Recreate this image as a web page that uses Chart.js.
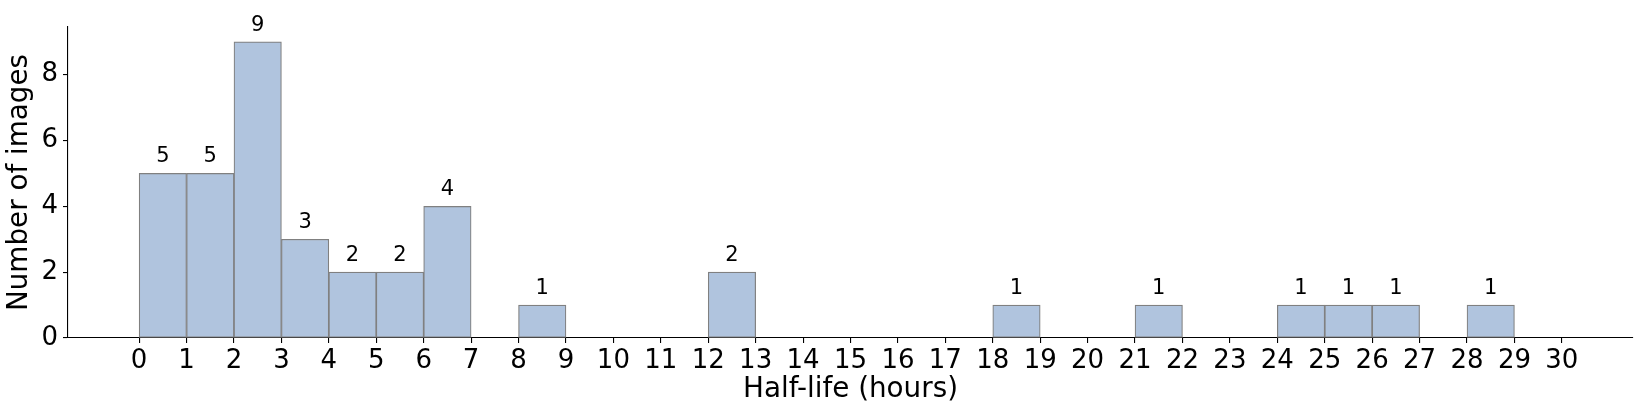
<!DOCTYPE html>
<html lang="en">
<head>
    <meta charset="UTF-8">
    <title>Half-life histogram</title>
    <style>
        html, body {
            margin: 0;
            padding: 0;
            background: #fff;
        }
        #chart-box {
            width: 1646px;
            height: 416px;
        }
    </style>
</head>
<body>
    <div id="chart-box">
        <canvas id="hist" width="1646" height="416"></canvas>
    </div>

    <script src="https://cdn.jsdelivr.net/npm/chart.js"></script>
    <script>
        // bin starts (hours), each bin is 1 hour wide
        const binStarts = [0, 1, 2, 3, 4, 5, 6, 7, 8, 9, 10, 11, 12, 13, 14, 15, 16, 17, 18, 19, 20, 21, 22, 23, 24, 25, 26, 27, 28, 29];
        const counts    = [5, 5, 9, 3, 2, 2, 4, 0, 1, 0, 0, 0, 2, 0, 0, 0, 0, 0, 1, 0, 0, 1, 0, 0, 1, 1, 1, 0, 1, 0];
        const xTicks = [0, 1, 2, 3, 4, 5, 6, 7, 8, 9, 10, 11, 12, 13, 14, 15, 16, 17, 18, 19, 20, 21, 22, 23, 24, 25, 26, 27, 28, 29, 30];
        const yTicks = [0, 2, 4, 6, 8];

        const font = 'DejaVu Sans';

        // count labels above each non-empty bar
        const barLabels = {
            id: 'barLabels',
            afterDatasetsDraw(chart) {
                const ctx = chart.ctx;
                const meta = chart.getDatasetMeta(0);
                ctx.save();
                ctx.font = '21px "' + font + '"';
                ctx.fillStyle = '#000';
                ctx.textAlign = 'center';
                ctx.textBaseline = 'alphabetic';
                meta.data.forEach((bar, i) => {
                    if (counts[i] > 0) {
                        ctx.fillText(String(counts[i]), bar.x, bar.y - 11);
                    }
                });
                ctx.restore();
            }
        };

        const filled = c => c.raw && c.raw.y > 0;

        const chart = new Chart(document.getElementById('hist').getContext('2d'), {
            type: 'bar',
            data: {
                datasets: [{
                    data: binStarts.map((s, i) => ({ x: s + 0.5, y: counts[i] })),
                    backgroundColor: c => (filled(c) ? '#B0C4DE' : 'rgba(0,0,0,0)'),
                    borderColor: '#808080',
                    borderWidth: c => (filled(c) ? 1.2 : 0),
                    borderSkipped: false,
                    barPercentage: 1,
                    categoryPercentage: 1
                }]
            },
            options: {
                responsive: false,
                animation: false,
                devicePixelRatio: 1,
                layout: {
                    padding: { top: 27, right: 13, left: 0, bottom: 0 }
                },
                plugins: {
                    legend: { display: false },
                    tooltip: { enabled: false }
                },
                scales: {
                    x: {
                        type: 'linear',
                        min: -1.5,
                        max: 31.5,
                        offset: false,
                        afterBuildTicks: s => { s.ticks = xTicks.map(v => ({ value: v })); },
                        afterFit: s => { s.height = 78; },
                        grid: {
                            offset: false,
                            drawOnChartArea: false,
                            drawTicks: true,
                            tickLength: 5,
                            color: '#000',
                            lineWidth: 1.1
                        },
                        border: { display: true, color: '#000', width: 1.1 },
                        ticks: {
                            autoSkip: false,
                            maxRotation: 0,
                            padding: 3,
                            color: '#000',
                            font: { family: font, size: 26 }
                        },
                        title: {
                            display: true,
                            text: 'Half-life (hours)',
                            color: '#000',
                            font: { family: font, size: 27.8 },
                            padding: { top: 0, bottom: 10 }
                        }
                    },
                    y: {
                        min: 0,
                        max: 9.45,
                        afterBuildTicks: s => { s.ticks = yTicks.map(v => ({ value: v })); },
                        afterFit: s => { s.width = 68; },
                        grid: {
                            drawOnChartArea: false,
                            drawTicks: true,
                            tickLength: 5,
                            color: '#000',
                            lineWidth: 1.1
                        },
                        border: { display: true, color: '#000', width: 1.1 },
                        ticks: {
                            padding: 5,
                            color: '#000',
                            font: { family: font, size: 26 }
                        },
                        title: {
                            display: true,
                            text: 'Number of images',
                            color: '#000',
                            font: { family: font, size: 27.8 },
                            padding: { top: 3, bottom: 0 }
                        }
                    }
                }
            },
            plugins: [barLabels]
        });
    </script>
</body>
</html>
